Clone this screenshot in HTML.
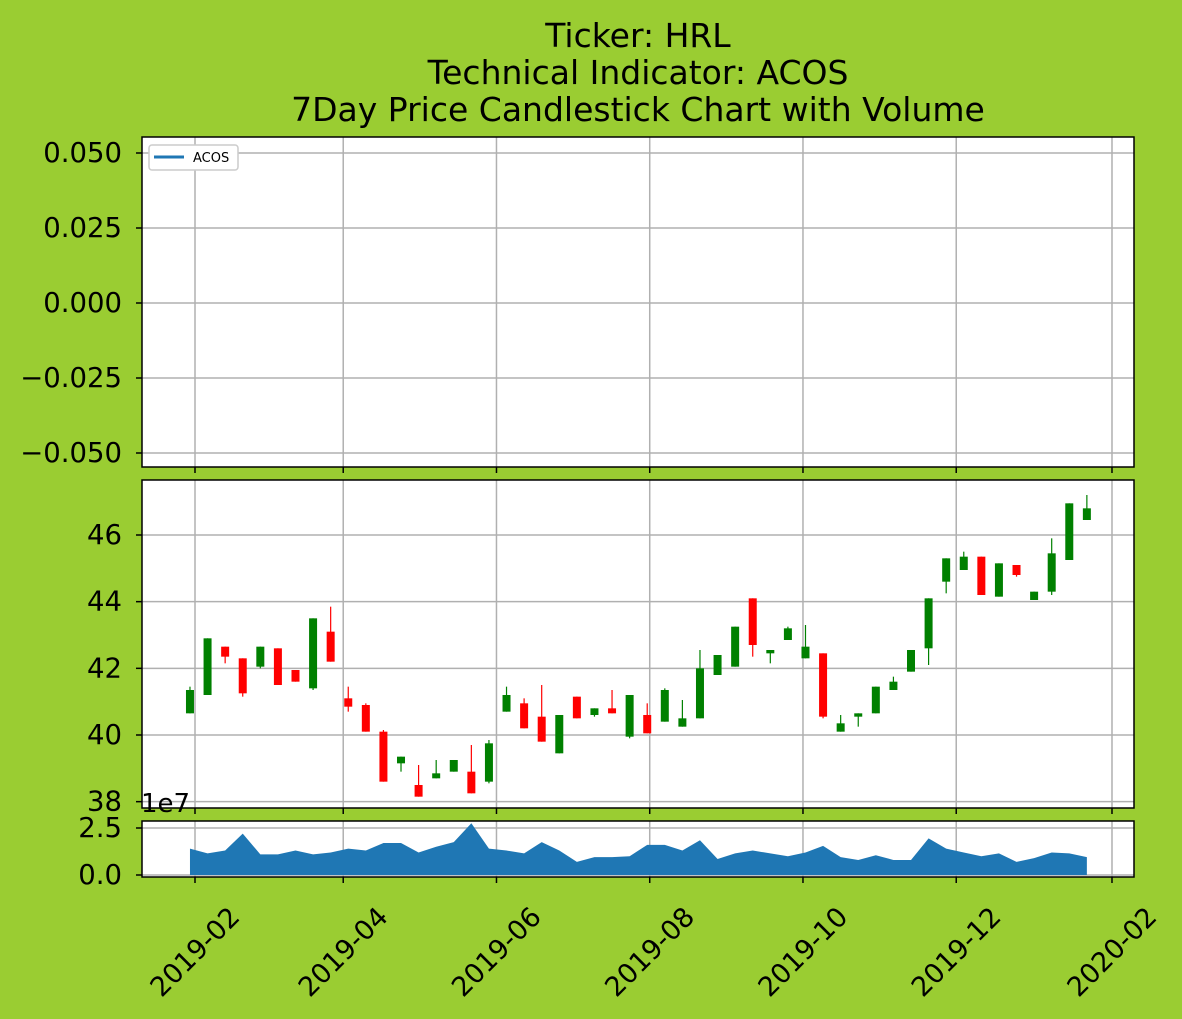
<!DOCTYPE html>
<html><head><meta charset="utf-8"><style>
html,body{margin:0;padding:0;background:#9acd32;}
svg{display:block;font-family:"DejaVu Sans","Liberation Sans",sans-serif;}
</style></head><body>
<svg id="chart" width="1182" height="1019" viewBox="0 0 1182 1019">
<rect x="0" y="0" width="1182" height="1019" fill="#9acd32"/>
<g font-size="33" text-anchor="middle" fill="#000">
<text x="638" y="47">Ticker: HRL</text>
<text x="638" y="84">Technical Indicator: ACOS</text>
<text x="638" y="121">7Day Price Candlestick Chart with Volume</text>
</g>
<g id="g"></g>
</svg>
<script>
const startDate = "2019-01-30";
const opens  = [40.65,41.2,42.65,42.3,42.05,42.6,41.95,41.4,43.1,41.1,40.9,40.1,39.15,38.5,38.7,38.9,38.9,38.6,40.7,40.95,40.55,39.45,41.15,40.6,40.8,39.95,40.6,40.4,40.25,40.5,41.8,42.05,44.1,42.45,42.85,42.3,42.45,40.1,40.55,40.65,41.35,41.9,42.6,44.6,44.95,45.35,44.15,45.1,44.05,44.3,45.25,46.45];
const closes = [41.35,42.9,42.35,41.25,42.65,41.5,41.6,43.5,42.2,40.85,40.1,38.6,39.35,38.15,38.85,39.25,38.25,39.75,41.2,40.2,39.8,40.6,40.5,40.8,40.65,41.2,40.05,41.35,40.5,42.0,42.4,43.25,42.7,42.55,43.2,42.65,40.55,40.35,40.65,41.45,41.6,42.55,44.1,45.3,45.35,44.2,45.15,44.8,44.3,45.45,46.95,46.8];
const highs  = [41.45,42.9,42.65,42.3,42.65,42.6,41.95,43.5,43.85,41.45,40.95,40.15,39.35,39.1,39.25,39.25,39.7,39.85,41.45,41.1,41.5,40.6,41.15,40.8,41.35,41.2,40.95,41.4,41.05,42.55,42.4,43.25,44.1,42.55,43.25,43.3,42.45,40.6,40.65,41.45,41.75,42.55,44.1,45.3,45.5,45.35,45.15,45.1,44.3,45.9,46.95,47.2];
const lows   = [40.65,41.2,42.15,41.15,42.0,41.5,41.6,41.35,42.2,40.7,40.1,38.6,38.9,38.15,38.7,38.9,38.25,38.55,40.7,40.2,39.8,39.45,40.5,40.55,40.65,39.9,40.05,40.4,40.25,40.5,41.8,42.05,42.35,42.15,42.85,42.3,40.5,40.1,40.25,40.65,41.35,41.9,42.1,44.25,44.95,44.2,44.15,44.75,44.05,44.2,45.25,46.45];
const volumes = [1.4,1.15,1.3,2.2,1.1,1.1,1.3,1.1,1.2,1.4,1.3,1.7,1.7,1.2,1.5,1.75,2.75,1.4,1.3,1.15,1.75,1.3,0.7,0.95,0.95,1.0,1.6,1.6,1.3,1.85,0.85,1.15,1.3,1.15,1.0,1.2,1.55,0.95,0.8,1.05,0.8,0.8,1.95,1.4,1.2,1.0,1.15,0.7,0.9,1.2,1.15,0.95];
const xTickLabels = ["2019-02","2019-04","2019-06","2019-08","2019-10","2019-12","2020-02"];
const priceTicks = [38,40,42,44,46];
const acosTicks = [0.05,0.025,0,-0.025,-0.05];
const acosTickLabels = ["0.050","0.025","0.000","\u22120.025","\u22120.050"];
const volTicks = [0,2.5];
const volTickLabels = ["0.0","2.5"];

const NS="http://www.w3.org/2000/svg";
const g=document.getElementById('g');
const L=142,R=1134;
const P1={t:137,b:467},P2={t:480,b:808},P3={t:821,b:877};
const DAY=86400000, base=Date.UTC(2019,1,1);
function xS(d){return 195+(d-base)/DAY*2.5123;}
function yA(v){return 303-v*3000;}
function yP(v){return 535+(46-v)*33.333;}
function yV(v){return 875-v*18.8;}
function mk(tag,attrs,parent){const e=document.createElementNS(NS,tag);for(const k in attrs)e.setAttribute(k,attrs[k]);(parent||g).appendChild(e);return e;}
const dates=opens.map((_,i)=>Date.parse(startDate)+i*7*DAY);
const tickX=xTickLabels.map(s=>xS(Date.UTC(+s.slice(0,4),+s.slice(5)-1,1)));

function panel(P,name){
  const r=mk('rect',{x:L,y:P.t,width:R-L,height:P.b-P.t,fill:'#fff'});
  
  
  tickX.forEach(x=>{const l=mk('line',{x1:x,x2:x,y1:P.t,y2:P.b,stroke:'#b0b0b0','stroke-width':1.5});
    
    
    const t=mk('line',{x1:x,x2:x,y1:P.b,y2:P.b+6,stroke:'#000','stroke-width':1.5});
    
    });
}
function yTicks(P,vals,labels,f,name){
  vals.forEach((v,i)=>{const y=f(v);
    const l=mk('line',{x1:L,x2:R,y1:y,y2:y,stroke:'#b0b0b0','stroke-width':1.5});
    
    
    const t=mk('line',{x1:L-6,x2:L,y1:y,y2:y,stroke:'#000','stroke-width':1.5});
    
    
    const tx=mk('text',{x:L-20,y:y+9,'text-anchor':'end','font-size':27.5});
    tx.textContent=labels[i];
    
    });
}
function frame(P,name){const r=mk('rect',{x:L,y:P.t,width:R-L,height:P.b-P.t,fill:'none',stroke:'#000','stroke-width':1.5});
  
  }

// ACOS panel
panel(P1,'acos');
yTicks(P1,acosTicks,acosTickLabels,yA,'acos');
const lg=mk('rect',{x:149,y:145,width:89,height:25,rx:3,fill:'#fff',stroke:'#ccc','stroke-width':1.5});


const ll=mk('line',{x1:154,x2:184,y1:157,y2:157,stroke:'#1f77b4','stroke-width':3});


const lt=mk('text',{x:193,y:162,'font-size':13});
lt.textContent='ACOS';


frame(P1,'acos');

// Price panel
panel(P2,'price');
yTicks(P2,priceTicks,priceTicks.map(String),yP,'price');
const hw=4;
opens.forEach((o,i)=>{
  const c=closes[i],x=xS(dates[i]),col=c>=o?'#008000':'#ff0000';
  const w=mk('line',{x1:x,x2:x,y1:yP(highs[i]),y2:yP(lows[i]),stroke:col,'stroke-width':1.2});
  
  
  const top=yP(Math.max(o,c)),bot=yP(Math.min(o,c));
  const b=mk('rect',{x:x-hw,y:top,width:2*hw,height:Math.max(1,bot-top),fill:col});
  
  
});
frame(P2,'price');

// Volume panel
panel(P3,'volume');
yTicks(P3,volTicks,volTickLabels,yV,'volume');
let d='M'+xS(dates[0])+','+yV(0);
volumes.forEach((v,i)=>{d+=' L'+xS(dates[i])+','+yV(v);});
d+=' L'+xS(dates[dates.length-1])+','+yV(0)+' Z';
const a=mk('path',{d:d,fill:'#1f77b4'});


frame(P3,'volume');
const ex=mk('text',{x:141,y:812,'font-size':26});
ex.textContent='1e7';



// x tick labels
xTickLabels.forEach((s,i)=>{const x=tickX[i];
  const t=mk('text',{x:x,y:961,'text-anchor':'middle','font-size':27,transform:'rotate(-45 '+x+' 952)'});
  t.textContent=s;
  
  });
</script>
</body></html>
